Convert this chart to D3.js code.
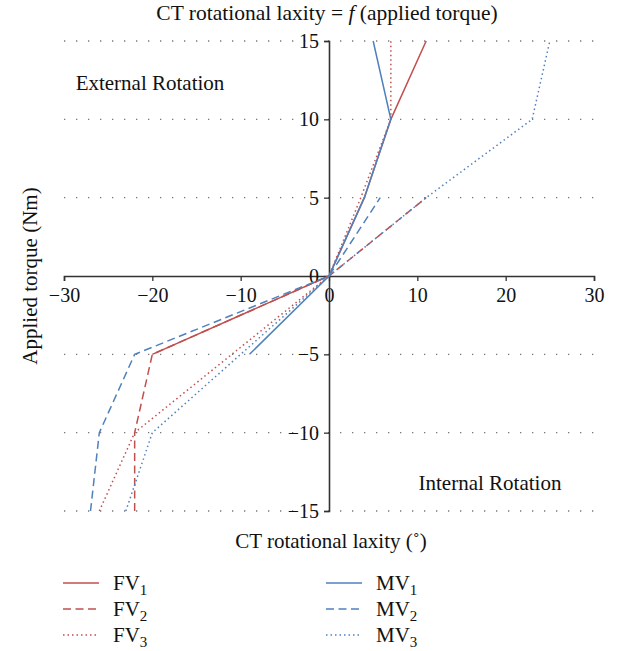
<!DOCTYPE html>
<html>
<head>
<meta charset="utf-8">
<script src="https://cdn.jsdelivr.net/npm/d3@7"></script>
<style>
  body { margin: 0; background: #fff; }
  text { font-family: "Liberation Serif", "DejaVu Serif", serif; fill: #111; }
</style>
</head>
<body>
<div id="chart"></div>
<script>
// Data (x = laxity in degrees, y = torque in Nm)
const xTicks = [-30, -20, -10, 0, 10, 20, 30];
const yTicks = [-15, -10, -5, 0, 5, 10, 15];

const fv1 = [[-20, -5], [0, 0], [4, 5], [7, 10], [11, 15]];
const fv2 = [[-22, -15], [-22, -10], [-20, -5], [0, 0], [11, 5]];
const fv3 = [[-26, -15], [-22, -10], [-11, -5], [0, 0], [3.6, 5], [7, 10], [7, 15]];
const mv1 = [[-9, -5], [0, 0], [4, 5], [7, 10], [5, 15]];
const mv2 = [[-27, -15], [-26, -10], [-22, -5], [0, 0], [5.8, 5]];
const mv3 = [[-23, -15], [-20, -10], [-10, -5], [0, 0], [11, 5], [23, 10], [25, 15]];

const red = "#c0504d";
const blue = "#4f81bd";
const dashes = { solid: null, dashed: "8,4.5", dotted: "1.5,3" };

const series = [
  { name: "FV", sub: "1", data: fv1, color: red, dash: "solid" },
  { name: "FV", sub: "2", data: fv2, color: red, dash: "dashed" },
  { name: "FV", sub: "3", data: fv3, color: red, dash: "dotted" },
  { name: "MV", sub: "1", data: mv1, color: blue, dash: "solid" },
  { name: "MV", sub: "2", data: mv2, color: blue, dash: "dashed" },
  { name: "MV", sub: "3", data: mv3, color: blue, dash: "dotted" }
];

const width = 619;
const height = 651;
const margin = { top: 41, right: 25, bottom: 140, left: 64 };

const x = d3.scaleLinear()
  .domain([-30, 30])
  .range([margin.left, width - margin.right]);

const y = d3.scaleLinear()
  .domain([-15, 15])
  .range([height - margin.bottom, margin.top]);

const svg = d3.select("#chart")
  .append("svg")
  .attr("width", width)
  .attr("height", height);

// dotted horizontal gridlines
svg.append("g")
  .selectAll("line")
  .data(yTicks.filter(d => d !== 0))
  .join("line")
  .attr("x1", x(-30))
  .attr("x2", x(30))
  .attr("y1", d => y(d))
  .attr("y2", d => y(d))
  .attr("stroke", "#777")
  .attr("stroke-width", 1.3)
  .attr("stroke-dasharray", "1.3,10.7");

const fmt = d => d < 0 ? "\u2212" + Math.abs(d) : d;

// axes through the origin
const xAxis = svg.append("g")
  .attr("transform", `translate(0,${y(0)})`)
  .call(d3.axisBottom(x).tickValues(xTicks).tickSize(5).tickSizeOuter(5).tickFormat(fmt));

const yAxis = svg.append("g")
  .attr("transform", `translate(${x(0)},0)`)
  .call(d3.axisLeft(y).tickValues(yTicks).tickSize(5).tickSizeOuter(5).tickFormat(fmt));

[xAxis, yAxis].forEach(g => {
  g.select(".domain").attr("stroke", "#333").attr("stroke-width", 1.6);
  g.selectAll(".tick line").attr("stroke", "#333").attr("stroke-width", 1.3);
  g.selectAll(".tick text")
    .style("font-family", '"Liberation Serif", serif')
    .style("font-size", "20px")
    .attr("fill", "#111");
});
xAxis.selectAll(".tick text").attr("y", 12);
yAxis.selectAll(".tick text").attr("x", -10);

// series lines
const line = d3.line()
  .x(d => x(d[0]))
  .y(d => y(d[1]));

svg.append("g")
  .selectAll("path")
  .data(series)
  .join("path")
  .attr("fill", "none")
  .attr("stroke", d => d.color)
  .attr("stroke-width", 1.5)
  .attr("stroke-dasharray", d => dashes[d.dash])
  .attr("d", d => line(d.data));

// titles and annotations
const title = svg.append("text")
  .attr("x", 327)
  .attr("y", 20)
  .attr("text-anchor", "middle")
  .style("font-size", "21.5px");
title.append("tspan").text("CT rotational laxity = ");
title.append("tspan").style("font-style", "italic").text("f");
title.append("tspan").text(" (applied torque)");

svg.append("text")
  .attr("x", 150)
  .attr("y", 90)
  .attr("text-anchor", "middle")
  .style("font-size", "21px")
  .text("External Rotation");

svg.append("text")
  .attr("x", 490)
  .attr("y", 490)
  .attr("text-anchor", "middle")
  .style("font-size", "21px")
  .text("Internal Rotation");

svg.append("text")
  .attr("transform", `translate(37,${y(0)}) rotate(-90)`)
  .attr("text-anchor", "middle")
  .style("font-size", "21px")
  .text("Applied torque (Nm)");

svg.append("text")
  .attr("x", 331)
  .attr("y", 548)
  .attr("text-anchor", "middle")
  .style("font-size", "21px")
  .text("CT rotational laxity (\u02DA)");

// legend
const legend = svg.append("g")
  .selectAll("g")
  .data(series)
  .join("g")
  .attr("transform", (d, i) => `translate(${i < 3 ? 63 : 326},${583 + (i % 3) * 26})`);

legend.append("line")
  .attr("x1", 0)
  .attr("x2", 36)
  .attr("stroke", d => d.color)
  .attr("stroke-width", 1.5)
  .attr("stroke-dasharray", d => dashes[d.dash]);

const lt = legend.append("text")
  .attr("x", 50)
  .attr("y", 7)
  .style("font-size", "21px");
lt.append("tspan").text(d => d.name);
lt.append("tspan")
  .attr("dy", 5)
  .style("font-size", "15px")
  .text(d => d.sub);
</script>
</body>
</html>
